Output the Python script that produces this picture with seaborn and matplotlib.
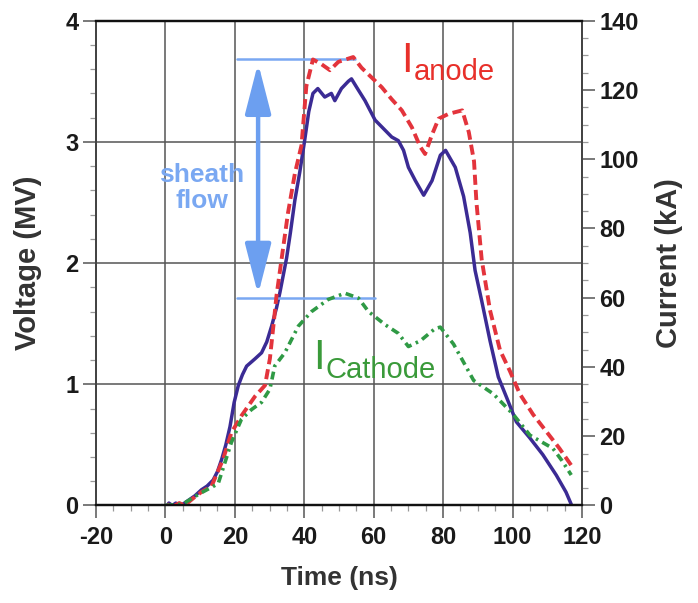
import numpy as np
import pandas as pd
import seaborn as sns
import matplotlib.pyplot as plt
from matplotlib.ticker import MultipleLocator

# voltage trace (MV), left axis
v_time = [-1, 0, 1, 2, 3, 4, 5, 6.5, 8.5, 10.4, 12, 13.75, 15, 16.2, 17.4, 18.6, 19.8,
          21, 22.2, 23.4, 25.8, 27.7, 29.2, 30.6, 32, 33, 34.9, 36, 37.3, 38.7, 40.1,
          41.3, 42.5, 43.9, 45.9, 47.8, 48.8, 50.7, 52.7, 53.6, 55.1, 57.5, 60.4, 62.8,
          65.2, 67.1, 68.6, 70, 72, 74.4, 76.8, 79.2, 80.7, 83.5, 85.9, 87.8, 89.2, 91.1,
          93.5, 95.9, 98.3, 101.1, 104.9, 108.7, 112.6, 115.4, 116.9]
voltage = [0, -0.02, 0.02, 0.0, 0.02, 0.0, 0.01, 0.04, 0.08, 0.13, 0.16, 0.21, 0.28, 0.38,
           0.5, 0.65, 0.85, 0.99, 1.08, 1.15, 1.21, 1.26, 1.35, 1.48, 1.63, 1.76, 2.04,
           2.25, 2.52, 2.75, 3.01, 3.25, 3.40, 3.44, 3.37, 3.40, 3.34, 3.44, 3.50, 3.52,
           3.45, 3.34, 3.18, 3.11, 3.04, 3.01, 2.93, 2.79, 2.68, 2.56, 2.68, 2.89, 2.93,
           2.79, 2.55, 2.25, 1.94, 1.69, 1.36, 1.06, 0.89, 0.69, 0.56, 0.42, 0.25, 0.11,
           0.01]

# anode current (kA), right axis
a_time = [-1, 0, 1.5, 2.7, 4, 5.5, 8.5, 10.4, 13.3, 16.6, 19, 21.9, 25.8, 28.7, 30.1,
          31.1, 32, 33.5, 35.3, 37.3, 39.2, 40.6, 42.5, 45, 47.4, 49.8, 54.1, 56.5, 59.4,
          62.3, 65.2, 68.1, 71, 73.4, 74.8, 76.8, 78.7, 81.6, 85.5, 87.4, 88.9, 89.6,
          91.1, 93.5, 96.4, 99.2, 102.1, 105.9, 109.7, 113.5, 116.9]
i_anode = [0, -0.7, 0.7, 0, 0.7, 0, 2.5, 3.9, 5.6, 13.3, 21, 25.9, 31.5, 34.7, 42.4, 51.8,
           60.6, 71.4, 84.4, 95.9, 104, 121.1, 128.8, 127.4, 125.7, 128.1, 129.5, 126.4,
           123.6, 120.8, 117.3, 114.1, 109.2, 103.6, 101.5, 107.1, 111.7, 113.1, 114.1,
           107.8, 99.4, 87.5, 71.1, 56.4, 44.8, 38.9, 32.2, 26.3, 21.4, 16.5, 11.6]

# cathode current (kA), right axis
c_time = [0, 5, 10, 15.2, 19, 21.9, 24.8, 27.7, 30.1, 31.5, 34.4, 38.3, 42.1, 46.9, 51.7,
          55.6, 58.5, 63.3, 67.1, 70, 73.5, 77.7, 79.2, 83, 88.8, 94.5, 100.2, 105, 111.6,
          114.2, 116.9]
i_cathode = [0, 0.4, 3.5, 6.3, 18.2, 24.9, 27.7, 29.8, 33.6, 40.3, 44.1, 51.8, 56, 59.5,
             61.3, 59.9, 56, 52.2, 49.7, 45.9, 47.6, 51.1, 51.5, 46.6, 36.1, 32.2, 26.3,
             20.3, 16.5, 13, 8.8]

sns.set_style("white")
plt.rcParams['font.family'] = ['Liberation Sans', 'DejaVu Sans']
plt.rcParams['axes.unicode_minus'] = False

fig = plt.figure(figsize=(6.98, 6.03), dpi=100)
ax = fig.add_axes([0.1375, 0.1617, 0.6963, 0.804])
ax2 = ax.twinx()

df_v = pd.DataFrame({'t': v_time, 'V': voltage})
df_a = pd.DataFrame({'t': a_time, 'I': i_anode})
df_c = pd.DataFrame({'t': c_time, 'I': i_cathode})

sns.lineplot(data=df_v, x='t', y='V', ax=ax, color='#3b2b94', linewidth=2.5, sort=False)
sns.lineplot(data=df_a, x='t', y='I', ax=ax2, color='#e3343c', linewidth=2.8, sort=False)
ax2.lines[-1].set_dashes((2.6, 1.3))
sns.lineplot(data=df_c, x='t', y='I', ax=ax2, color='#2f9a45', linewidth=2.6, sort=False)
ax2.lines[-1].set_dashes((2.2, 1.3, 0.7, 1.3))

ax.set_xlim(-20, 120)
ax.set_ylim(0, 4)
ax2.set_ylim(0, 140)

ax.xaxis.set_major_locator(MultipleLocator(20))
ax.xaxis.set_minor_locator(MultipleLocator(5))
ax.yaxis.set_major_locator(MultipleLocator(1))
ax.yaxis.set_minor_locator(MultipleLocator(0.2))
ax2.yaxis.set_major_locator(MultipleLocator(20))
ax2.yaxis.set_minor_locator(MultipleLocator(5))

ax.grid(True, which='major', color='#555555', linewidth=1.1)
ax.set_axisbelow(True)

ax.tick_params(axis='both', which='major', direction='out', length=9.5, width=1.1,
               color='#555555', labelsize=17, labelcolor='#1a1a1a')
ax.tick_params(axis='x', which='major', pad=5)
ax.tick_params(axis='y', which='major', pad=3)
ax.tick_params(axis='both', which='minor', direction='out', length=4, width=0.9,
               color='#999999')
ax.tick_params(left=True, bottom=True, which='both')
ax2.tick_params(axis='y', which='major', direction='out', length=9.5, width=1.1,
                color='#555555', labelsize=17, labelcolor='#1a1a1a', pad=3, right=True)
ax2.tick_params(axis='y', which='minor', direction='out', length=4, width=0.9,
                color='#999999', right=True)
for lab in ax.get_xticklabels() + ax.get_yticklabels() + ax2.get_yticklabels():
    lab.set_fontweight('bold')

for a in (ax, ax2):
    for side in ('left', 'right'):
        a.spines[side].set_color('#444444')
        a.spines[side].set_linewidth(1.3)
    for side in ('top', 'bottom'):
        a.spines[side].set_color('#111111')
        a.spines[side].set_linewidth(1.6)

ax.set_xlabel('Time (ns)', fontsize=19, fontweight='bold', color='#333333')
ax.set_ylabel('Voltage (MV)', fontsize=21, fontweight='bold', color='#333333')
ax2.set_ylabel('Current (kA)', fontsize=21, fontweight='bold', color='#333333')
ax.xaxis.set_label_coords(0.5, -0.125)
ax.yaxis.set_label_coords(-0.111, 0.5)
ax2.yaxis.set_label_coords(1.15, 0.5)

# sheath flow annotation
blue = '#7aa8f2'
ax.plot([20.5, 54.6], [3.68, 3.68], color=blue, linewidth=1.8)
ax.plot([20.5, 60.4], [1.71, 1.71], color=blue, linewidth=1.8)
ax.annotate('', xy=(26.7, 1.74), xytext=(26.7, 3.65),
            arrowprops=dict(arrowstyle='<|-|>,head_length=1.4,head_width=0.36',
                            color='#6c9ff0', lw=3.2, mutation_scale=22,
                            shrinkA=0, shrinkB=0))
ax.text(10.4, 2.62, 'sheath\nflow', color=blue, fontsize=19, fontweight='bold',
        ha='center', va='center', linespacing=1.15)

ax.text(68.0, 3.58, 'I', color='#e8302a', fontsize=30, ha='left', va='baseline')
ax.text(71.6, 3.51, 'anode', color='#e8302a', fontsize=21, ha='left', va='baseline')
ax.text(42.6, 1.13, 'I', color='#3a9a3a', fontsize=30, ha='left', va='baseline')
ax.text(46.2, 1.05, 'Cathode', color='#3a9a3a', fontsize=21, ha='left', va='baseline')

fig.savefig('out.png', dpi=100)
